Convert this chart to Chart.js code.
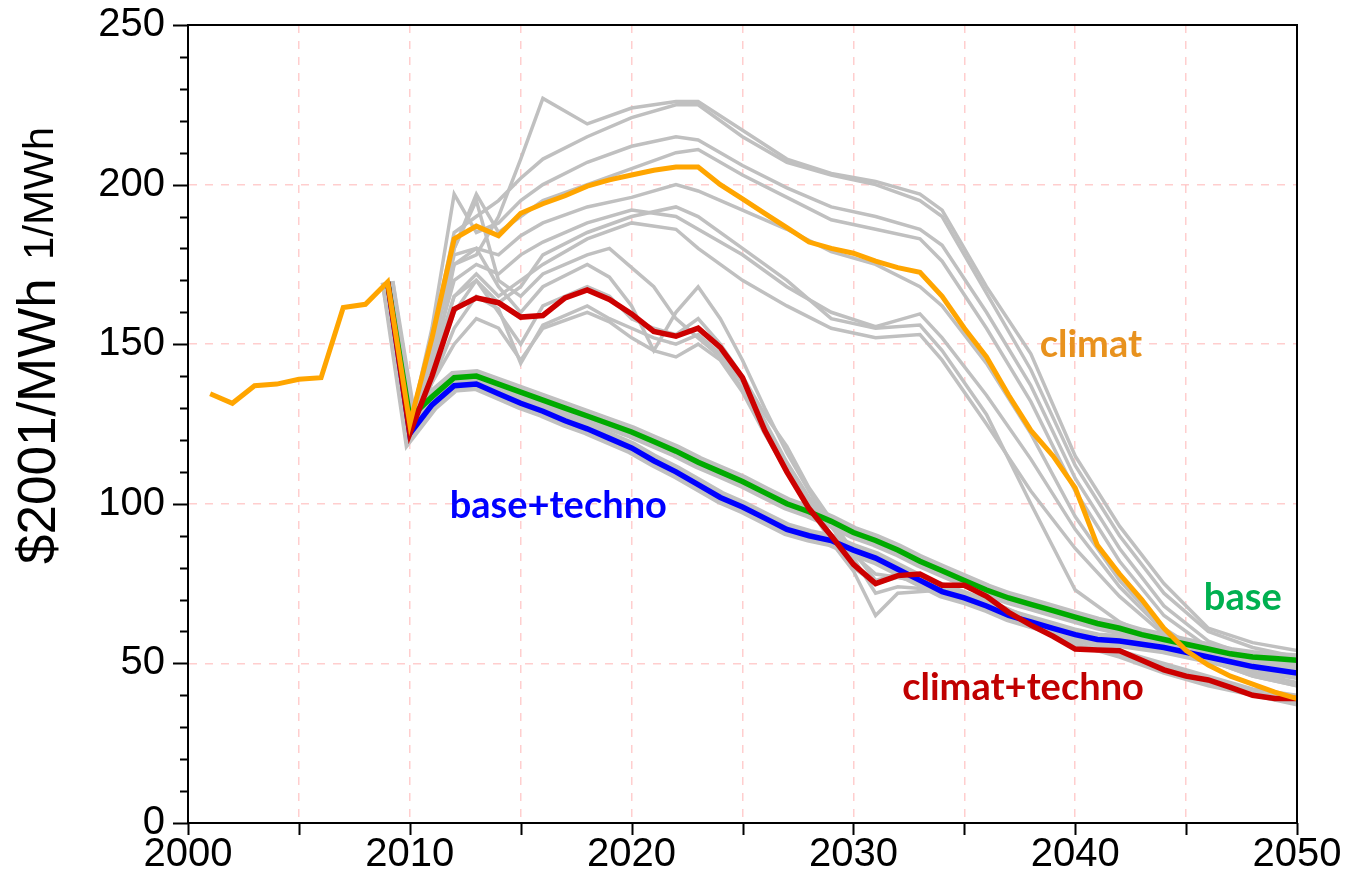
<!DOCTYPE html>
<html>
<head>
<meta charset="utf-8">
<script src="https://cdn.jsdelivr.net/npm/chart.js@4.4.0/dist/chart.umd.min.js"></script>
<style>
  html, body { margin: 0; padding: 0; background: #fff; }
  #wrap { width: 1345px; height: 881px; position: relative; }
</style>
</head>
<body>
<div id="wrap"><canvas id="priceChart"></canvas></div>
<script>
// main scenarios, one value per year
const histYears = [2001, 2002, 2003, 2004, 2005, 2006, 2007, 2008, 2009, 2010, 2011, 2012, 2013, 2014, 2015, 2016, 2017, 2018, 2019, 2020,
  2021, 2022, 2023, 2024, 2025, 2026, 2027, 2028, 2029, 2030, 2031, 2032, 2033, 2034, 2035, 2036, 2037, 2038, 2039, 2040,
  2041, 2042, 2043, 2044, 2045, 2046, 2047, 2048, 2049, 2050];
const climat = [134.5, 131.5, 137, 137.5, 139, 139.5, 161.5, 162.5, 169.5, 125, 152, 183, 187, 184, 191, 194, 196.5, 199.5, 201.5, 203,
  204.5, 205.5, 205.5, 200, 195.5, 191, 186.5, 182, 180, 178.5, 176, 174, 172.5, 165, 155, 146, 134, 123, 115, 105,
  87, 78, 70, 61, 54, 49.5, 46, 43.5, 41, 39];

const scenYears = [2009, 2010, 2011, 2012, 2013, 2014, 2015, 2016, 2017, 2018, 2019, 2020, 2021, 2022, 2023, 2024, 2025, 2026, 2027, 2028, 2029,
  2030, 2031, 2032, 2033, 2034, 2035, 2036, 2037, 2038, 2039, 2040, 2041, 2042, 2043, 2044, 2045, 2046, 2047, 2048, 2049, 2050];
const climatTechno = [169.5, 122, 140, 161, 164.5, 163, 158.5, 159, 164.5, 167, 164, 159.5, 154, 152.5, 155, 149, 139.5, 123, 110, 98.5, 90,
  81, 75, 77.5, 78, 74.5, 74.5, 71, 66, 62, 58.5, 54.5, 54.2, 54, 51, 48, 46, 44.8, 42.5, 40, 39, 39];
const base = [169.5, 127, 133.5, 139.5, 140, 137.5, 135, 132.5, 130, 127.5, 125, 122.5, 119.5, 116.5, 113, 110, 107, 103.5, 100, 97.5, 94.5,
  91, 88.5, 85.5, 82, 79, 76, 73, 70.5, 68.5, 66.5, 64.5, 62.5, 61, 59, 57.5, 56, 54.5, 53, 52, 51.5, 51];
const baseTechno = [169.5, 122, 131, 137, 137.5, 134.5, 131.5, 129, 126, 123.5, 120.5, 117.5, 113.5, 110, 106, 102, 99, 95.5, 92, 90, 88.5,
  85.5, 83, 79.5, 76, 72.5, 70.5, 68, 65, 63, 61, 59, 57.5, 57, 56, 55, 53.5, 52, 50.5, 49, 48, 47];

// grey variants of the climat scenario
const climatVarYears = [2009, 2010, 2011, 2012, 2013, 2014, 2015, 2016, 2018, 2020, 2022, 2023, 2025, 2027, 2029, 2031, 2033, 2034, 2036,
  2038, 2040, 2042, 2044, 2046, 2048, 2050];
const climatVar1 = [169.5, 125, 150, 175, 178, 190, 208, 227, 219, 224, 226, 226, 217, 208, 203.5, 201, 197, 192, 168, 147, 115, 93, 75, 61, 56.5, 54];
const climatVar2 = [169.5, 125, 152, 185, 190, 195, 202, 208, 215, 221, 225, 225, 215, 207, 203, 200, 195, 190, 166, 142, 112, 90, 72, 60, 55, 52];
const climatVar3 = [169.5, 124, 155, 197, 185, 188, 195, 200, 207, 212, 215, 214, 206, 199, 193, 190, 186, 181, 160, 137, 108, 86, 68, 57, 52, 49];
const climatVar4 = [169.5, 124, 150, 180, 197, 185, 190, 195, 200, 205, 210, 211, 203, 196, 189, 186, 183, 176, 155, 132, 104, 82, 65, 55, 50, 47];
const climatVar5 = [169.5, 125, 148, 178, 180, 178, 184, 188, 193, 196, 200, 198, 192, 186, 179, 175, 168, 162, 144, 122, 96, 76, 61, 52, 47, 44];
const climatVar6 = [169.5, 124, 145, 170, 175, 172, 178, 182, 188, 192, 190, 186, 178, 168, 160, 155.5, 159.5, 152, 134, 114, 92, 74, 60, 51, 46, 43];
const climatVar7 = [169.5, 124, 143, 165, 172, 165, 170, 175, 183, 188, 186, 180, 170, 162, 155, 152, 153, 145, 125, 104, 86, 71, 59, 51, 46, 43];
const climatVar8 = [169.5, 125, 140, 160, 170, 163, 168, 178, 185, 190, 193, 190, 180, 170, 158, 155, 156, 148, 128, 100, 73, 63, 57, 53, 51, 50];

// grey variants of the climat+techno scenario
const technoVarYears = [2009, 2010, 2011, 2012, 2013, 2014, 2015, 2016, 2018, 2019, 2020, 2021, 2022, 2023, 2024, 2025, 2026, 2027, 2028,
  2029, 2030, 2031, 2032, 2034, 2036, 2038, 2040, 2042, 2044, 2046, 2048, 2050];
const technoVar1 = [169.5, 123, 140, 175, 180, 168, 160, 168, 175, 171, 162, 148, 160, 168, 158, 145, 130, 116, 104, 93, 84, 78, 77, 74, 70, 64, 58, 54, 49, 45, 41, 39];
const technoVar2 = [169.5, 122, 138, 150, 158, 155, 145, 155, 160, 157, 152, 148, 146, 150, 145, 135, 122, 110, 99, 88, 79, 65, 72, 73, 68, 62, 55, 53, 48, 44, 40, 38];
const technoVar3 = [169.5, 123, 142, 165, 170, 160, 150, 162, 168, 165, 158, 155, 153, 158, 150, 140, 128, 118, 105, 95, 85, 76, 78, 75, 70, 63, 57, 54, 50, 46, 42, 40];
const technoVar4 = [169.5, 122, 138, 155, 165, 161, 144, 156, 162, 158, 155, 152, 150, 153, 147, 138, 126, 113, 102, 93, 83, 72, 74, 73, 69, 63, 56, 52, 47, 43, 40, 37];
const technoVar5 = [169.5, 124, 145, 180, 195, 170, 165, 172, 178, 180, 174, 168, 158, 152, 146, 136, 124, 112, 101, 90, 80, 75, 77, 74, 69, 63, 56, 53, 49, 45, 41, 38];

const xTicks = [2000, 2010, 2020, 2030, 2040, 2050];
const yTicks = [0, 50, 100, 150, 200, 250];

const GREY = '#c0c0c0';
const PINK = 'rgba(255, 190, 190, 0.75)';

// turn years + values into {x, y} points
function pts(years, vals) {
  return years.map((yr, i) => ({ x: yr, y: vals[i] }));
}

function line(data, color, width) {
  return { data: data, borderColor: color, borderWidth: width, pointRadius: 0, fill: false, tension: 0 };
}

const datasets = [
  line(pts(histYears, climat), '#ffa500', 5),
  line(pts(scenYears, climatTechno), '#cc0000', 5.5),
  line(pts(scenYears, base), '#00aa00', 5.5),
  line(pts(scenYears, baseTechno), '#0000ff', 5.5),
  // grey band of the base variants under green and blue
  line(pts(scenYears, base), GREY, 14),
  line(pts(scenYears, baseTechno), GREY, 14),
];
[climatVar1, climatVar2, climatVar3, climatVar4, climatVar5, climatVar6, climatVar7, climatVar8].forEach(v => {
  datasets.push(line(pts(climatVarYears, v), GREY, 3.5));
});
[technoVar1, technoVar2, technoVar3, technoVar4, technoVar5].forEach(v => {
  datasets.push(line(pts(technoVarYears, v), GREY, 3.5));
});

// labels written on the plot, anchored in data units
const notes = [
  { text: 'climat', x: 2038.4, y: 146, color: '#e8921e' },
  { text: 'base+techno', x: 2011.8, y: 95.5, color: '#0000ff' },
  { text: 'base', x: 2045.8, y: 66.8, color: '#00b050' },
  { text: 'climat+techno', x: 2032.2, y: 38.5, color: '#c00000' },
];

const decor = {
  id: 'decor',
  afterDraw(chart) {
    const ctx = chart.ctx;
    const a = chart.chartArea;
    const xs = chart.scales.x, ys = chart.scales.y;
    ctx.save();
    ctx.strokeStyle = '#000';
    ctx.lineWidth = 2;
    ctx.beginPath();
    // tick marks
    ys.ticks.forEach(t => {
      const py = Math.round(ys.getPixelForValue(t.value)) + 0.5;
      const len = yTicks.includes(t.value) ? 15 : 8;
      ctx.moveTo(a.left - len, py);
      ctx.lineTo(a.left, py);
    });
    xs.ticks.forEach(t => {
      const px = Math.round(xs.getPixelForValue(t.value)) + 0.5;
      ctx.moveTo(px, a.bottom);
      ctx.lineTo(px, a.bottom + 12);
    });
    ctx.stroke();
    ctx.strokeRect(a.left, a.top, a.right - a.left, a.bottom - a.top);

    // y title, two parts
    ctx.fillStyle = '#000';
    ctx.translate(55, 564);
    ctx.rotate(-Math.PI / 2);
    ctx.textAlign = 'left';
    ctx.textBaseline = 'alphabetic';
    ctx.font = '53px "Liberation Sans", Arial, sans-serif';
    ctx.fillText('$2001/MWh', 0, 0);
    ctx.font = '42px "Liberation Sans", Arial, sans-serif';
    ctx.fillText('1/MWh', 304, -2);
    ctx.restore();

    ctx.save();
    ctx.font = 'bold 38px Lato, "Open Sans", sans-serif';
    ctx.textAlign = 'left';
    ctx.textBaseline = 'alphabetic';
    notes.forEach(n => {
      ctx.fillStyle = n.color;
      ctx.fillText(n.text, xs.getPixelForValue(n.x), ys.getPixelForValue(n.y));
    });
    ctx.restore();
  }
};

const tickFont = { family: '"Liberation Sans", Arial, sans-serif', size: 40 };

new Chart(document.getElementById('priceChart'), {
  type: 'line',
  data: { datasets: datasets },
  options: {
    responsive: true,
    maintainAspectRatio: false,
    animation: false,
    events: [],
    layout: { padding: { left: 0, right: 48, top: 25, bottom: 0 } },
    plugins: { legend: { display: false }, tooltip: { enabled: false } },
    scales: {
      x: {
        type: 'linear',
        min: 2000,
        max: 2050,
        afterFit(s) { s.height = 58; s.paddingLeft = 0; s.paddingRight = 0; },
        ticks: {
          stepSize: 5,
          autoSkip: false,
          maxRotation: 0,
          padding: 8,
          color: '#000',
          font: tickFont,
          callback: v => xTicks.includes(v) ? String(v) : ''
        },
        grid: {
          drawTicks: false,
          lineWidth: 1.5,
          color: c => (c.tick && c.tick.value > 2000 && c.tick.value < 2050) ? PINK : 'rgba(0,0,0,0)'
        },
        border: { display: true, color: '#000', width: 2, dash: [8, 8] }
      },
      y: {
        min: 0,
        max: 250,
        afterFit(s) { s.width = 188; s.paddingTop = 0; s.paddingBottom = 0; },
        ticks: {
          stepSize: 10,
          autoSkip: false,
          padding: 23,
          color: '#000',
          font: tickFont,
          callback: v => yTicks.includes(v) ? String(v) : ''
        },
        grid: {
          drawTicks: false,
          lineWidth: 1.5,
          color: c => (c.tick && yTicks.includes(c.tick.value) && c.tick.value > 0 && c.tick.value < 250) ? PINK : 'rgba(0,0,0,0)'
        },
        border: { display: true, color: '#000', width: 2, dash: [8, 8] }
      }
    }
  },
  plugins: [decor]
});
</script>
</body>
</html>
